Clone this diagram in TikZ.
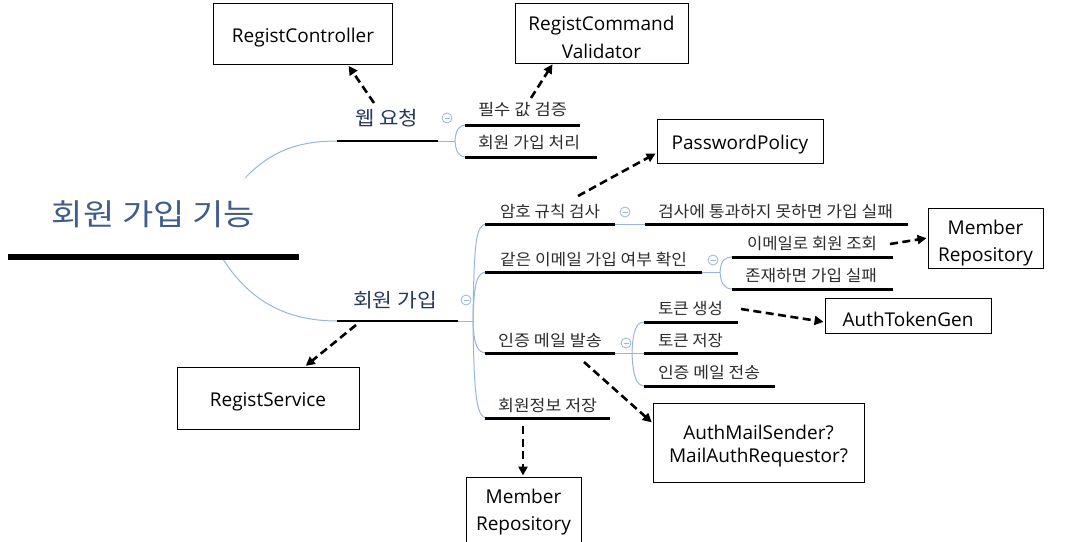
\documentclass[tikz,border=0pt]{standalone}
\usepackage{fontspec}
\usepackage{graphicx}
\setmainfont{Open Sans}
\newfontfamily\kr{Noto Sans CJK KR}
\usetikzlibrary{arrows.meta}
\definecolor{mapblue}{RGB}{150,182,222}
\definecolor{navytext}{RGB}{38,56,92}
\definecolor{roottext}{RGB}{62,92,140}
\definecolor{subtext}{RGB}{45,45,45}
\newcommand\fitw[2]{\resizebox{#1pt}{\height}{#2}}
\tikzset{
  box/.style={draw, line width=1pt, inner sep=0pt},
  boxtxt/.style={align=center, inner sep=0pt, font=\fontsize{19}{27.5}\selectfont},
  roottxt/.style={inner sep=0pt, text=roottext, font=\kr\fontsize{30}{34}\selectfont},
  maintxt/.style={inner sep=0pt, text=navytext, font=\kr\fontsize{19.5}{22}\selectfont},
  subtxt/.style={inner sep=0pt, text=subtext, font=\kr\fontsize{16}{18}\selectfont},
  mainline/.style={line width=2pt},
  subline/.style={line width=3pt},
  branch/.style={draw=mapblue, line width=1pt},
  dep/.style={line width=2.6pt, dash pattern=on 8pt off 4.5pt, -{Triangle[length=9pt,width=9pt]}, shorten >=1pt},
  fold/.style={draw=mapblue, line width=0.8pt, circle, minimum size=10pt, inner sep=0pt,
    path picture={\draw[mapblue, line width=0.8pt] ([xshift=-2.5pt]path picture bounding box.center) -- ([xshift=2.5pt]path picture bounding box.center);}}
}
\begin{document}
\begin{tikzpicture}[x=1pt,y=-1pt]
\useasboundingbox (0,0) rectangle (1070,541);
\fill[white] (0,0) rectangle (1070,541);

% ---------- blue branch connectors ----------
\draw[branch] (245,178) .. controls (272,150) and (300,141) .. (337,141);
\draw[branch] (223,259) .. controls (252,305) and (292,321) .. (337,321);
\draw[branch] (438,141) -- (455,141);
\draw[branch] (455,141) .. controls (456,129) and (459,125) .. (467,125);
\draw[branch] (455,141) .. controls (456,153) and (459,157) .. (467,157);
\draw[branch] (458,321) -- (473,321);
\draw[branch] (473,321) .. controls (474,240) and (476,224) .. (487,224);
\draw[branch] (473,321) .. controls (474,285) and (476,272) .. (487,272);
\draw[branch] (473,321) .. controls (474,345) and (477,353) .. (487,353);
\draw[branch] (473,321) .. controls (474,400) and (477,418) .. (487,418);
\draw[branch] (615,224) -- (645,224);
\draw[branch] (702,272) -- (720,272);
\draw[branch] (720,272) .. controls (721,261) and (724,257) .. (733,257);
\draw[branch] (720,272) .. controls (721,284) and (724,289) .. (733,289);
\draw[branch] (615,353) -- (632,353);
\draw[branch] (632,353) .. controls (633,330) and (636,322) .. (645,322);
\draw[branch] (632,353) -- (645,353);
\draw[branch] (632,353) .. controls (633,376) and (636,386) .. (645,386);

% ---------- root ----------
\node[roottxt] (root) at (153.5,214) {\fitw{203}{회원 가입 기능}};
\draw[line width=6pt] (8,257) -- (299,257);

% ---------- main topics ----------
\node[maintxt] (web) at (386.5,118) {\fitw{63}{웹 요청}};
\draw[mainline] (337,141) -- (438,141);
\node[fold] (fweb) at (447,118) {};
\node[maintxt] (join) at (395,300) {\fitw{84}{회원 가입}};
\draw[mainline] (337,321) -- (458,321);
\node[fold] (fjoin) at (466,300) {};

% ---------- sub topics: web ----------
\node[subtxt] (req) at (522.5,110) {\fitw{89}{필수 값 검증}};
\draw[subline] (465,125) -- (580,125);
\node[subtxt] (proc) at (529,143) {\fitw{102}{회원 가입 처리}};
\draw[subline] (465,157) -- (597,157);

% ---------- sub topics: join ----------
\node[subtxt] (pwchk) at (550,211.5) {\fitw{100}{암호 규칙 검사}};
\draw[subline] (485,224) -- (615,224);
\node[fold] (fpw) at (625,212) {};
\node[subtxt] (pwfail) at (775.5,211.5) {\fitw{235}{검사에 통과하지 못하면 가입 실패}};
\draw[subline] (645,224) -- (908,224);

\node[subtxt] (dup) at (593.5,259.5) {\fitw{187}{같은 이메일 가입 여부 확인}};
\draw[subline] (485,272) -- (702,272);
\node[fold] (fdup) at (713,260) {};
\node[subtxt] (find) at (812,243.5) {\fitw{130}{이메일로 회원 조회}};
\draw[subline] (732,257) -- (893,257);
\node[subtxt] (exist) at (811,275.5) {\fitw{132}{존재하면 가입 실패}};
\draw[subline] (732,289) -- (893,289);

\node[subtxt] (mail) at (550,340.5) {\fitw{104}{인증 메일 발송}};
\draw[subline] (485,353) -- (615,353);
\node[fold] (fmail) at (626,343) {};
\node[subtxt] (tgen) at (690.5,308) {\fitw{65}{토큰 생성}};
\draw[subline] (644,322) -- (738,322);
\node[subtxt] (tsave) at (690.5,340.5) {\fitw{65}{토큰 저장}};
\draw[subline] (644,353) -- (738,353);
\node[subtxt] (tsend) at (709,372.5) {\fitw{102}{인증 메일 전송}};
\draw[subline] (644,386) -- (775,386);

\node[subtxt] (save) at (547.5,406) {\fitw{99}{회원정보 저장}};
\draw[subline] (485,418) -- (610,418);

% ---------- class boxes ----------
\node[box, minimum width=179pt, minimum height=61pt] (ctrl) at (303,34) {};
\node[boxtxt] (ctrl-t) at (303,38) {RegistController};
\node[box, minimum width=173pt, minimum height=60pt] (val) at (601.5,33) {};
\node[boxtxt] (val-t) at (601.5,37.5) {RegistCommand\\Validator};
\node[box, minimum width=166pt, minimum height=44pt] (pw) at (740,141) {};
\node[boxtxt] (pw-t) at (740,145) {PasswordPolicy};
\node[box, minimum width=115pt, minimum height=60pt] (mrep1) at (985.5,238) {};
\node[boxtxt] (mrep1-t) at (985.5,243) {Member\\Repository};
\node[box, minimum width=166pt, minimum height=35pt] (atg) at (908,315.5) {};
\node[boxtxt] (atg-t) at (908,319) {AuthTokenGen};
\node[box, minimum width=182pt, minimum height=62pt] (rsvc) at (268,398) {};
\node[boxtxt] (rsvc-t) at (268,402) {RegistService};
\node[box, minimum width=211pt, minimum height=79pt] (ams) at (758.5,442.5) {};
\node[boxtxt, font=\fontsize{19}{23}\selectfont] (ams-t) at (758.5,446) {AuthMailSender?\\MailAuthRequestor?};
\node[box, minimum width=115pt, minimum height=72pt] (mrep2) at (523.5,513) {};
\node[boxtxt] (mrep2-t) at (523.5,512) {Member\\Repository};

% ---------- dependency arrows ----------
\coordinate (sweb) at (374,103);
\coordinate (sreq) at (531,98);
\coordinate (spw) at (578,196);
\coordinate (sfind) at (890,244);
\coordinate (stgen) at (741,309);
\coordinate (smail) at (584,362);
\coordinate (ssave) at (523,426);
\coordinate (sjoin) at (356,325);

\draw[dep] (sweb) -- (ctrl.south -| 348,0);
\draw[dep] (sreq) -- (val.south -| 553,0);
\draw[dep] (spw) -- (pw.west |- 0,153);
\draw[dep] (sfind) -- (mrep1.west |- 0,238);
\draw[dep] (stgen) -- (atg.west |- 0,322);
\draw[dep] (smail) -- (ams.west |- 0,423);
\draw[dep] (ssave) -- (mrep2.north -| 523,0);
\draw[dep] (sjoin) -- (rsvc.north -| 305,0);
\end{tikzpicture}
\end{document}
